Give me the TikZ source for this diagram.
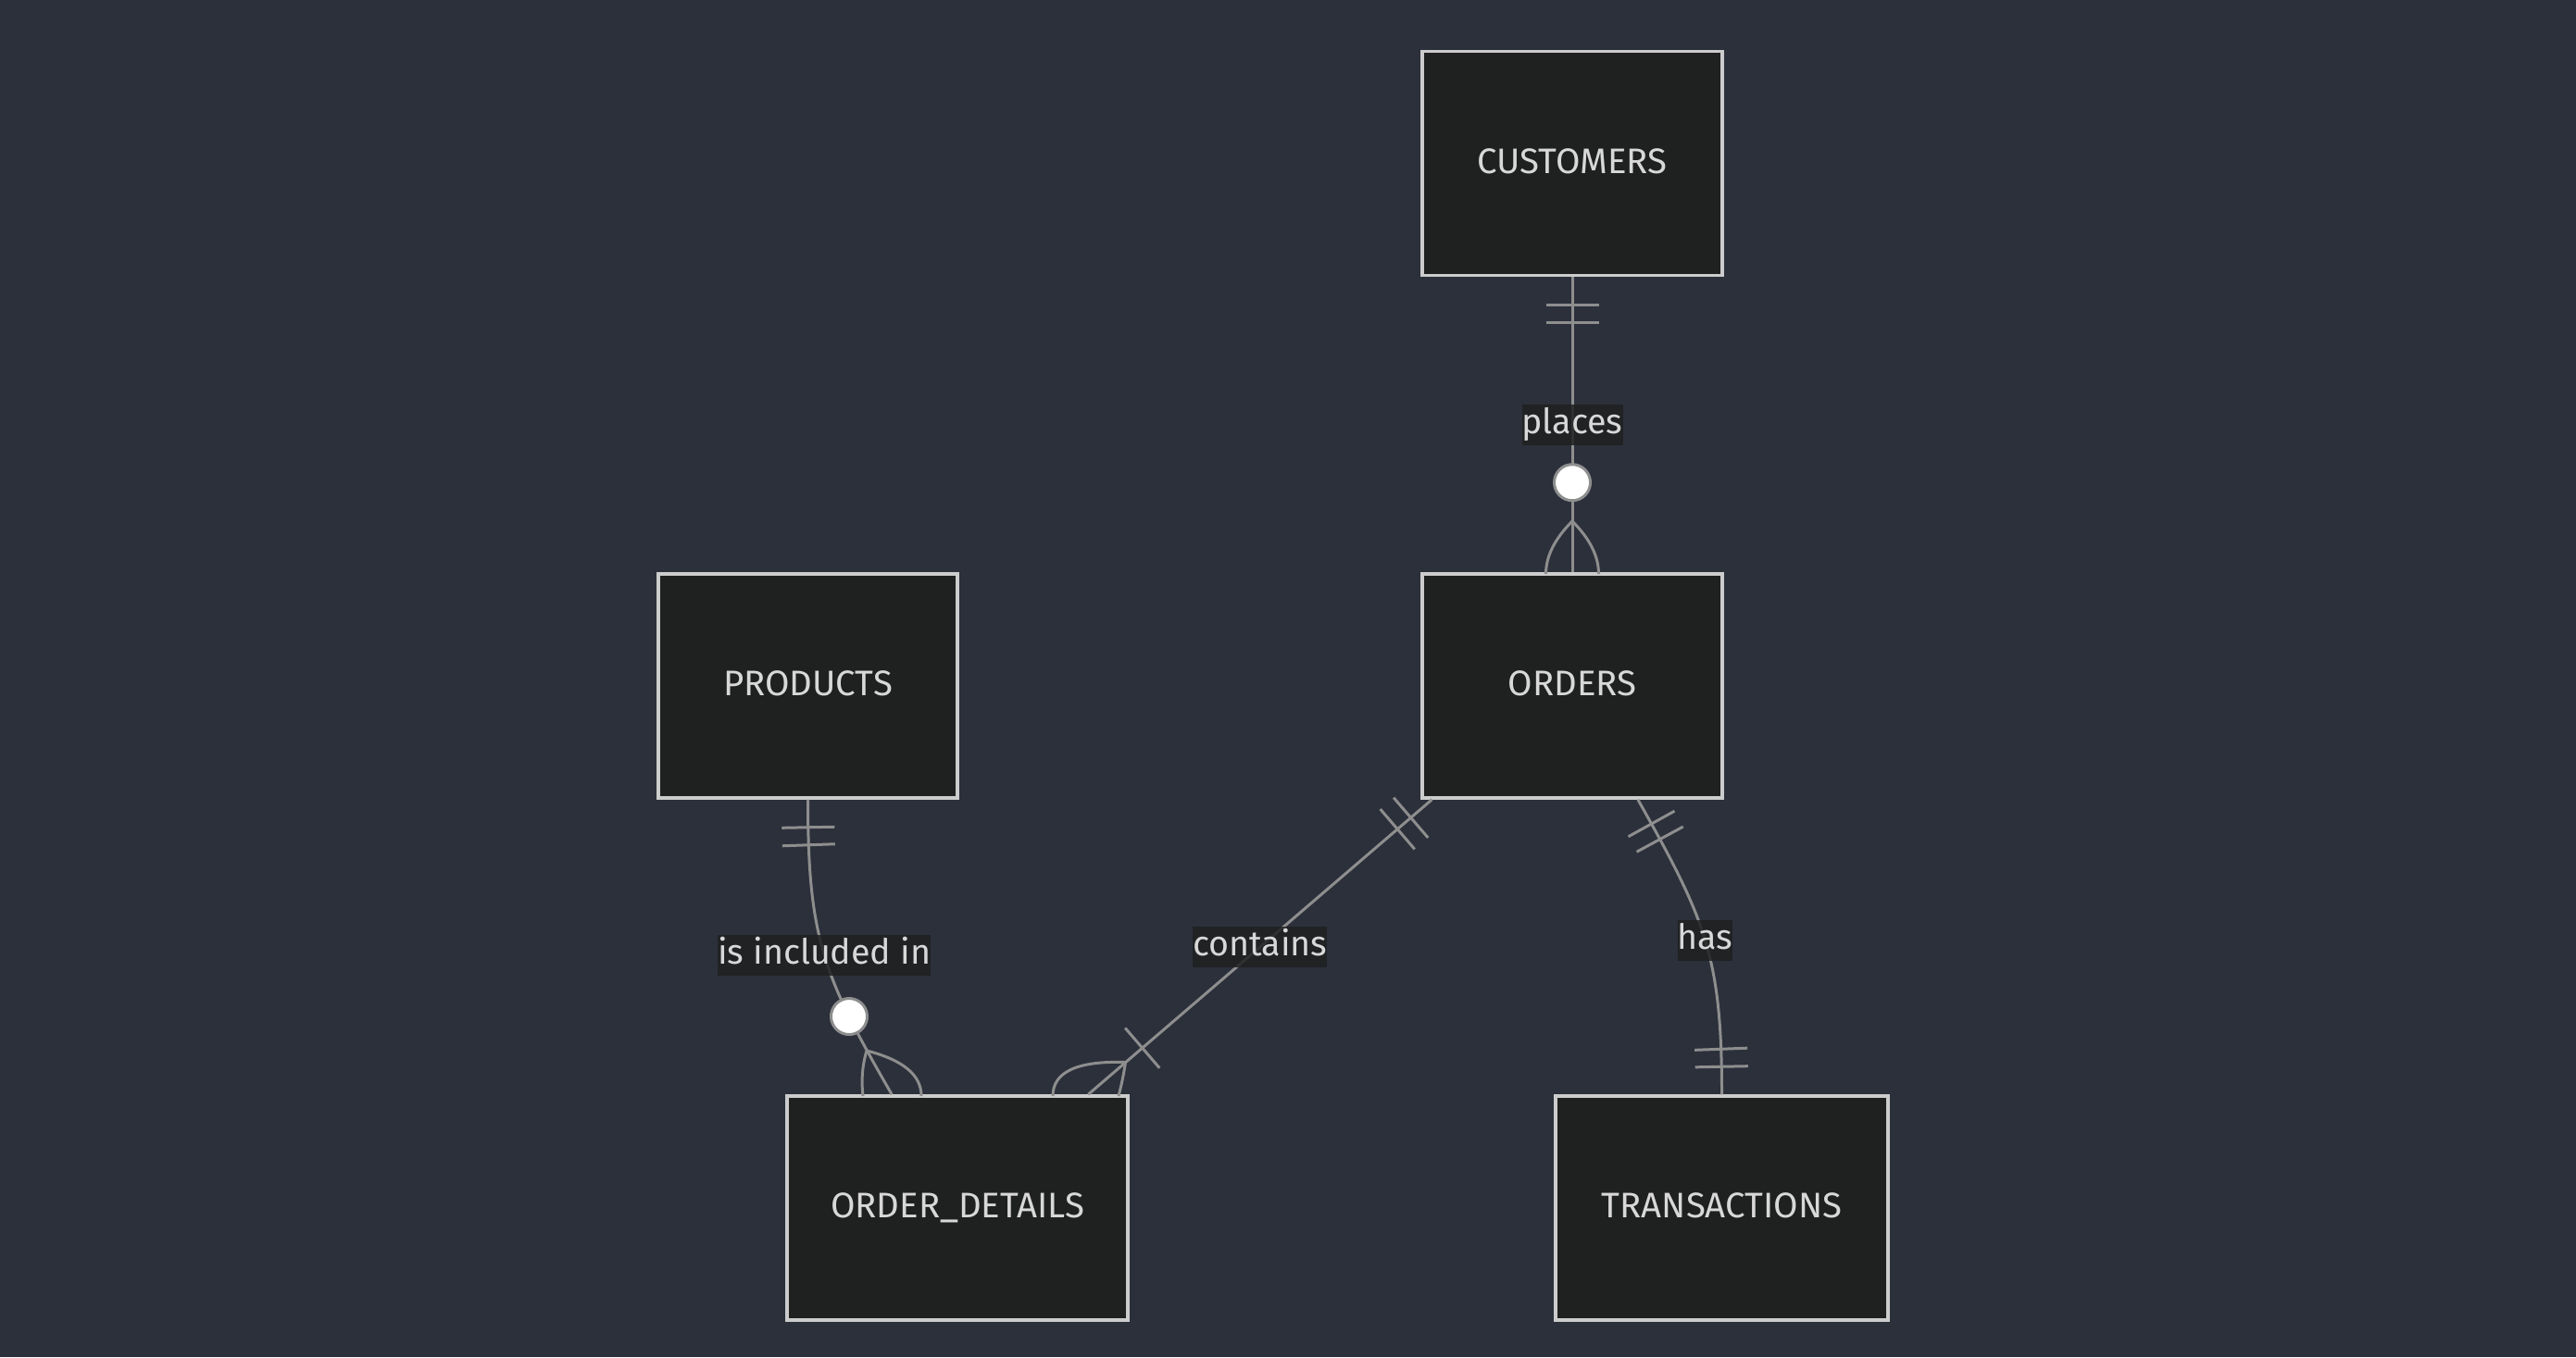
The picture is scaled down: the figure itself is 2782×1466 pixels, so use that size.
\documentclass[tikz,border=0pt]{standalone}
\usepackage{fontspec}
\setmainfont{Fira Sans}
\usetikzlibrary{calc,decorations.markings}

\definecolor{canvasbg}{HTML}{2B303B}
\definecolor{entityfill}{HTML}{1F2020}
\definecolor{entityline}{HTML}{CCCCCC}
\definecolor{entitytext}{HTML}{D8D8D8}
\definecolor{relcolor}{HTML}{8E8E8E}

% crow's foot: apex, left foot, left bend, right foot, right bend
\newcommand{\crowsfoot}[5]{%
  \draw[rel] (#1) .. controls ($(#1)!2/3!(#3)$) and ($(#2)!2/3!(#3)$) .. (#2);
  \draw[rel] (#1) .. controls ($(#1)!2/3!(#5)$) and ($(#4)!2/3!(#5)$) .. (#4);
}

\tikzset{
  entity/.style={draw=entityline, fill=entityfill, line width=0.95pt, text=entitytext,
    minimum height=2.42cm, inner sep=0pt, text height=0.265cm, text depth=0.046cm,
    font=\fontsize{10.9}{13}\selectfont},
  rel/.style={draw=relcolor, line width=0.85pt},
  rellabel/.style={fill=entityfill, fill opacity=0.85, text opacity=1, text=entitytext,
    inner sep=0pt, text height=0.317cm, text depth=0.123cm,
    font=\fontsize{10.7}{13}\selectfont},
  bar at/.style={postaction={decorate, decoration={markings,
    mark=at position #1 with {\draw[rel] (0cm,-0.285cm) -- (0cm,0.285cm);}}}},
  ring at/.style={postaction={decorate, decoration={markings,
    mark=at position #1 with {\draw[rel, fill=white] (0cm,0cm) circle (0.195cm);}}}},
  one start/.style={bar at=0.30cm, bar at=0.49cm},
  one end/.style={bar at=-0.30cm, bar at=-0.49cm}
}

\begin{document}
\begin{tikzpicture}[x=0.01cm, y=-0.01cm]
% Canvas
\fill[canvasbg] (0,0) rectangle (2782,1466);
\useasboundingbox (0,0) rectangle (2782,1466);

% Entities
\node[entity, minimum width=3.24cm] (customers) at (1698,176.5) {CUSTOMERS};
\node[entity, minimum width=3.24cm] (orders) at (1698,741) {ORDERS};
\node[entity, minimum width=3.23cm] (products) at (872.5,741) {PRODUCTS};
\node[entity, minimum width=3.68cm] (od) at (1034,1305) {ORDER\_DETAILS};
\node[entity, minimum width=3.59cm] (trans) at (1859.5,1305) {TRANSACTIONS};

% Relationships
\draw[rel, one start, ring at=-0.97cm] (customers.south) -- node[rellabel] (lplaces) {places} (orders.north);
\crowsfoot{1698,563}{1669.5,620}{1669.5,591.5}{1726.5,620}{1726.5,591.5}

\draw[rel, one start, ring at=-0.96cm] (products.south) .. controls (872.5,1014.5) and (889.4,1054.5)
  .. node[rellabel, pos=0.5] (lincluded) {is included in} (od.120);
\crowsfoot{936,1135}{932,1184}{929,1158}{995,1184}{995,1150}

\draw[rel, one start, bar at=-0.77cm] (orders.219) -- node[rellabel] (lcontains) {contains} (od.41);
\crowsfoot{1215.5,1147.5}{1137,1184}{1137,1145}{1208,1184}{1213,1165}

\draw[rel, one start, one end] (orders.-60) .. controls (1842,993.7) and (1859.5,1033.6)
  .. node[rellabel, pos=0.5] (lhas) {has} (trans.north);
\end{tikzpicture}
\end{document}
